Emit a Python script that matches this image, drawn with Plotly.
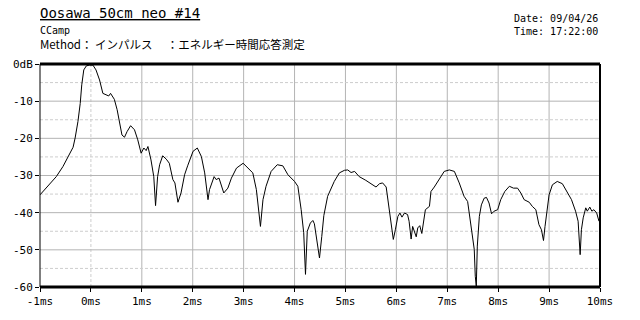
import plotly.graph_objects as go

# ---- data ----
t_ms = [-1.0, -0.843, -0.68, -0.55, -0.42, -0.35, -0.31, -0.255, -0.21, -0.18, -0.14, -0.09, -0.03, 0.04,
        0.10, 0.17, 0.235, 0.30, 0.35, 0.386, 0.46, 0.515, 0.56, 0.61, 0.66, 0.71, 0.78, 0.856, 0.92,
        0.986, 1.04, 1.085, 1.12, 1.18, 1.235, 1.27, 1.31, 1.35, 1.41, 1.48, 1.54, 1.61, 1.65, 1.71,
        1.77, 1.84, 1.90, 1.94, 2.006, 2.09, 2.17, 2.235, 2.30, 2.33, 2.42, 2.46, 2.516, 2.61, 2.69,
        2.76, 2.86, 2.99, 3.08, 3.18, 3.25, 3.33, 3.38, 3.44, 3.54, 3.66, 3.77, 3.87, 4.0, 4.065,
        4.13, 4.18, 4.215, 4.25, 4.31, 4.36, 4.39, 4.445, 4.49, 4.535, 4.575, 4.65, 4.78, 4.88, 4.98,
        5.045, 5.11, 5.18, 5.27, 5.40, 5.50, 5.60, 5.67, 5.73, 5.80, 5.85, 5.90, 5.94, 5.98, 6.03,
        6.07, 6.11, 6.16, 6.22, 6.25, 6.29, 6.32, 6.35, 6.39, 6.42, 6.46, 6.50, 6.57, 6.65, 6.68,
        6.745, 6.84, 6.94, 7.04, 7.14, 7.235, 7.33, 7.40, 7.45, 7.50, 7.53, 7.55, 7.57, 7.59, 7.63,
        7.67, 7.725, 7.77, 7.82, 7.87, 7.92, 7.99, 8.05, 8.13, 8.22, 8.30, 8.38, 8.445, 8.51, 8.61,
        8.67, 8.74, 8.80, 8.85, 8.89, 8.92, 8.97, 9.0, 9.065, 9.16, 9.26, 9.36, 9.44, 9.52, 9.57,
        9.61, 9.635, 9.67, 9.72, 9.75, 9.80, 9.84, 9.88, 9.935, 9.98]
level_db = [-35.2, -32.8, -30.3, -27.6, -24.4, -22.4, -19.9, -15.5, -10.6, -5.6, -1.6, -0.5, -0.3, -0.3,
            -1.6, -4.3, -7.9, -8.3, -8.6, -7.9, -9.5, -12.3, -15.9, -19.1, -19.7, -18.2, -16.6, -17.7, -20.4,
            -24.0, -22.6, -23.3, -22.2, -25.8, -30.3, -38.1, -30.3, -27.1, -24.7, -25.6, -26.7, -31.1, -32.0, -37.2,
            -34.7, -29.8, -27.4, -25.8, -23.5, -22.6, -24.9, -29.3, -36.5, -33.8, -30.3, -31.1, -30.7, -34.7, -33.4,
            -30.7, -28.0, -26.7, -28.0, -29.3, -33.8, -43.7, -36.5, -32.9, -28.9, -27.1, -27.4, -29.8, -31.6, -32.9,
            -39.2, -45.4, -56.6, -45.0, -42.8, -42.1, -43.0, -48.1, -52.2, -46.4, -40.8, -35.6, -31.6, -29.3, -28.6,
            -28.5, -29.2, -28.9, -30.3, -31.3, -32.2, -33.1, -32.2, -32.0, -33.1, -38.3, -42.8, -47.2, -44.6, -41.0,
            -40.1, -41.2, -40.1, -40.5, -42.3, -47.1, -43.7, -45.0, -46.5, -44.1, -43.5, -45.6, -39.2, -38.3, -34.3,
            -33.1, -31.1, -28.9, -28.5, -28.9, -32.0, -35.6, -37.0, -41.9, -46.4, -49.9, -57.1, -59.8, -49.0, -41.0,
            -37.9, -36.1, -35.9, -37.4, -40.3, -39.6, -39.2, -36.5, -34.3, -32.9, -33.4, -33.4, -34.7, -36.5, -37.2,
            -38.3, -39.2, -43.2, -44.6, -47.5, -43.7, -38.3, -35.2, -32.5, -31.6, -32.2, -34.5, -36.5, -39.6, -42.3,
            -51.3, -44.6, -41.4, -38.7, -39.6, -38.5, -39.6, -39.2, -40.1, -42.3]

x_tick_vals = [-1, 0, 1, 2, 3, 4, 5, 6, 7, 8, 9, 10]
x_tick_labels = ["-1ms", "0ms", "1ms", "2ms", "3ms", "4ms", "5ms", "6ms", "7ms", "8ms", "9ms", "10ms"]
y_tick_vals = [-60, -50, -40, -30, -20, -10, 0]
y_tick_labels = ["-60", "-50", "-40", "-30", "-20", "-10", "0dB"]

title_text = "Oosawa 50cm neo #14"
sub1 = "CCamp"
sub2 = "Method： インパルス　 ：エネルギー時間応答測定"
date_text = "Date: 09/04/26<br>Time: 17:22:00"

MONO = "DejaVu Sans Mono"
JP = "Noto Sans CJK JP"

fig = go.Figure()
fig.add_trace(go.Scatter(x=t_ms, y=level_db, mode="lines",
                         line=dict(color="black", width=1), hoverinfo="skip"))

shapes = []
grid_solid = "#b4b4b4"
grid_dash = "#cdcdcd"
dash_pat = "3px,2px"
# vertical grid
for v in range(0, 10):
    shapes.append(dict(type="line", xref="x", yref="paper", x0=v, x1=v, y0=0, y1=1, layer="below",
                       line=dict(color=grid_dash if v == 0 else grid_solid, width=1,
                                 dash=dash_pat if v == 0 else "solid")))
# horizontal grid
for h in range(-55, 0, 5):
    major = h % 10 == 0
    shapes.append(dict(type="line", xref="paper", yref="y", x0=0, x1=1, y0=h, y1=h, layer="below",
                       line=dict(color=grid_solid if major else grid_dash, width=1,
                                 dash="solid" if major else dash_pat)))
# frame
shapes.append(dict(type="line", xref="paper", yref="paper", x0=0, x1=1, y0=1, y1=1,
                   line=dict(color="black", width=3)))
shapes.append(dict(type="line", xref="paper", yref="paper", x0=0, x1=1, y0=0, y1=0,
                   line=dict(color="black", width=3)))
shapes.append(dict(type="line", xref="paper", yref="paper", x0=0, x1=0, y0=0, y1=1,
                   line=dict(color="black", width=1)))
shapes.append(dict(type="line", xref="paper", yref="paper", x0=1, x1=1, y0=0, y1=1,
                   line=dict(color="black", width=2)))

annotations = [
    dict(text=title_text, xref="paper", yref="paper", x=-0.003, y=1.185, xanchor="left", yanchor="bottom",
         showarrow=False, font=dict(family=MONO, size=14, color="black", lineposition="under")),
    dict(text=sub1, xref="paper", yref="paper", x=-0.003, y=1.117, xanchor="left", yanchor="bottom",
         showarrow=False, font=dict(family=MONO, size=10, color="black")),
    dict(text=sub2, xref="paper", yref="paper", x=-0.003, y=1.045, xanchor="left", yanchor="bottom",
         showarrow=False, font=dict(family=JP, size=11.5, color="black")),
    dict(text=date_text, xref="paper", yref="paper", x=1.0, y=1.113, xanchor="right", yanchor="bottom",
         align="left", showarrow=False, font=dict(family=MONO, size=10, color="black")),
]

fig.update_layout(
    width=640, height=320,
    margin=dict(l=40, r=40, t=64, b=33),
    paper_bgcolor="white", plot_bgcolor="white",
    showlegend=False,
    shapes=shapes, annotations=annotations,
    xaxis=dict(range=[-1, 10], tickvals=x_tick_vals, ticktext=x_tick_labels, showgrid=False,
               zeroline=False, showline=False, ticks="outside", ticklen=4, tickcolor="black",
               tickfont=dict(family=MONO, size=11, color="black")),
    yaxis=dict(range=[-60, 0], tickvals=y_tick_vals, ticktext=y_tick_labels, showgrid=False,
               zeroline=False, showline=False, ticks="outside", ticklen=4, tickcolor="black",
               tickfont=dict(family=MONO, size=11, color="black")),
)

fig.write_html("out.html")
